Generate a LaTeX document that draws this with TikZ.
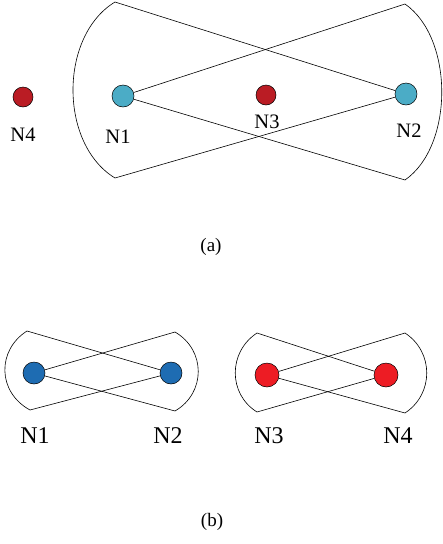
\documentclass[tikz,border=0pt]{standalone}
\usepackage{fontspec}
\setmainfont{Liberation Serif}
\usetikzlibrary{calc}

\definecolor{darkdot}{RGB}{186,28,36}
\definecolor{cyandot}{RGB}{75,172,198}
\definecolor{bluedot}{RGB}{30,108,178}
\definecolor{reddot}{RGB}{237,28,36}

\begin{document}
\begin{tikzpicture}[x=1pt,y=-1pt,
    dot/.style={circle,draw=black,line width=0.5pt,inner sep=0pt,minimum size=#1},
    hull/.style={line width=0.6pt},
    lbla/.style={font=\fontsize{20.5}{24}\selectfont,inner sep=0pt},
    lblb/.style={font=\fontsize{24}{28}\selectfont,inner sep=0pt},
    capt/.style={font=\fontsize{19}{22}\selectfont,inner sep=0pt}]
  \useasboundingbox (0,0) rectangle (443,544);

  %% Part (a): the nodes
  \node[dot=20pt,fill=darkdot] (A4) at (23,97)   {};
  \node[dot=22pt,fill=cyandot] (A1) at (123,96)  {};
  \node[dot=20pt,fill=darkdot] (A3) at (266,95)  {};
  \node[dot=22pt,fill=cyandot] (A2) at (406,94)  {};

  \node[lbla] (LA4) at (23,135)  {N4};
  \node[lbla] (LA1) at (118,137) {N1};
  \node[lbla] (LA3) at (267,122) {N3};
  \node[lbla] (LA2) at (409,131) {N2};

  %% Part (a): outline round N1 and N2
  \coordinate (ATL) at (115,2);
  \coordinate (ABL) at (115,178);
  \coordinate (ATR) at (405,4);
  \coordinate (ABR) at (405,180);
  \draw[hull] (A2) -- (ATL) .. controls (59,36) and (59,144) .. (ABL) -- (A2);
  \draw[hull] (A1) -- (ATR) .. controls (454,38) and (454,146) .. (ABR) -- (A1);

  \node[capt] (CA) at (211,247) {(a)};

  %% Part (b): the nodes
  \node[dot=22pt,fill=bluedot] (B1) at (34,373)  {};
  \node[dot=22pt,fill=bluedot] (B2) at (171,373) {};
  \node[dot=24pt,fill=reddot]  (B3) at (267,375) {};
  \node[dot=24pt,fill=reddot]  (B4) at (386,375) {};

  \node[lblb] (LB1) at (35,436)  {N1};
  \node[lblb] (LB2) at (168,436) {N2};
  \node[lblb] (LB3) at (269,436) {N3};
  \node[lblb] (LB4) at (398,436) {N4};

  %% Part (b): outlines of the two groups
  \coordinate (BTL) at (27,331);
  \coordinate (BBL) at (30,410);
  \coordinate (BTR) at (175,332);
  \coordinate (BBR) at (175,411);
  \draw[hull] (B2) -- (BTL) .. controls (-3,350) and (-3,392) .. (BBL) -- (B2);
  \draw[hull] (B1) -- (BTR) .. controls (206,350) and (206,393) .. (BBR) -- (B1);

  \coordinate (CTL) at (257,333);
  \coordinate (CBL) at (257,412);
  \coordinate (CTR) at (405,333);
  \coordinate (CBR) at (405,413);
  \draw[hull] (B4) -- (CTL) .. controls (228,352) and (228,394) .. (CBL) -- (B4);
  \draw[hull] (B3) -- (CTR) .. controls (434,352) and (434,394) .. (CBR) -- (B3);

  \node[capt] (CB) at (212,522) {(b)};
\end{tikzpicture}
\end{document}
